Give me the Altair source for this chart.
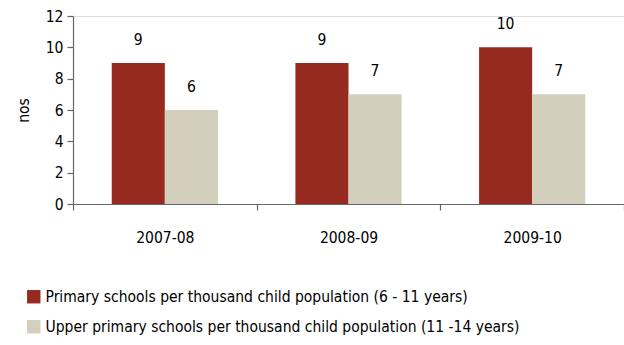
import altair as alt
import pandas as pd

years = ["2007-08", "2008-09", "2009-10"]
series = [
    "Primary schools per thousand child population (6 - 11 years)",
    "Upper primary schools per thousand child population (11 -14 years)",
]
primary = [9, 9, 10]
upper = [6, 7, 7]
colors = ["#962A1F", "#D3CFBC"]

rows = []
for i, y in enumerate(years):
    rows.append({"year": y, "series": series[0], "value": primary[i]})
    rows.append({"year": y, "series": series[1], "value": upper[i]})
df = pd.DataFrame(rows)

FONT = "DejaVu Sans Condensed, Roboto, sans-serif"
FS = 15.5

x = alt.X("year:N", title=None, sort=years,
          scale=alt.Scale(paddingInner=0, paddingOuter=0),
          axis=alt.Axis(labelAngle=0, tickBand="extent", tickSize=6, labelPadding=20,
                        labelFontSize=FS, labelColor="#000", domainColor="#666",
                        tickColor="#666", labelFont=FONT, domainWidth=1.2, tickWidth=1.2))
xo = alt.XOffset("series:N", sort=series,
                 scale=alt.Scale(paddingInner=0, paddingOuter=0.73))
y = alt.Y("value:Q", title="nos",
          scale=alt.Scale(domain=[0, 12]),
          axis=alt.Axis(values=[0, 2, 4, 6, 8, 10, 12], grid=False, tickSize=6,
                        labelOverlap=False, labelFontSize=FS, labelColor="#000",
                        domainColor="#666", tickColor="#666", labelFont=FONT,
                        titleFont=FONT, titleFontSize=FS, titleFontWeight="normal",
                        titleColor="#000", labelPadding=4, titlePadding=14,
                        domainWidth=1.2, tickWidth=1.2))
color = alt.Color("series:N", sort=series,
                  scale=alt.Scale(domain=series, range=colors),
                  legend=alt.Legend(title=None, orient="none", legendX=-47, legendY=273,
                                    symbolType="square", symbolSize=180,
                                    symbolStrokeWidth=0, labelFontSize=FS,
                                    labelFont=FONT, labelColor="#000", labelLimit=700,
                                    rowPadding=13, symbolOpacity=1))

base = alt.Chart(df).encode(x=x, xOffset=xo, y=y)
bars = base.mark_bar(opacity=1).encode(color=color)
labels = base.mark_text(dy=-15, baseline="bottom", fontSize=FS, font=FONT, color="#000").encode(
    text="value:Q")

chart = (bars + labels).properties(
    width=551, height=188,
    autosize=alt.AutoSizeParams(type="none"),
    padding={"left": 73, "top": 16, "right": 0, "bottom": 141},
).configure_view(stroke=None).configure(background="white")

chart.save("out.html", embed_options={"renderer": "svg", "actions": False})
